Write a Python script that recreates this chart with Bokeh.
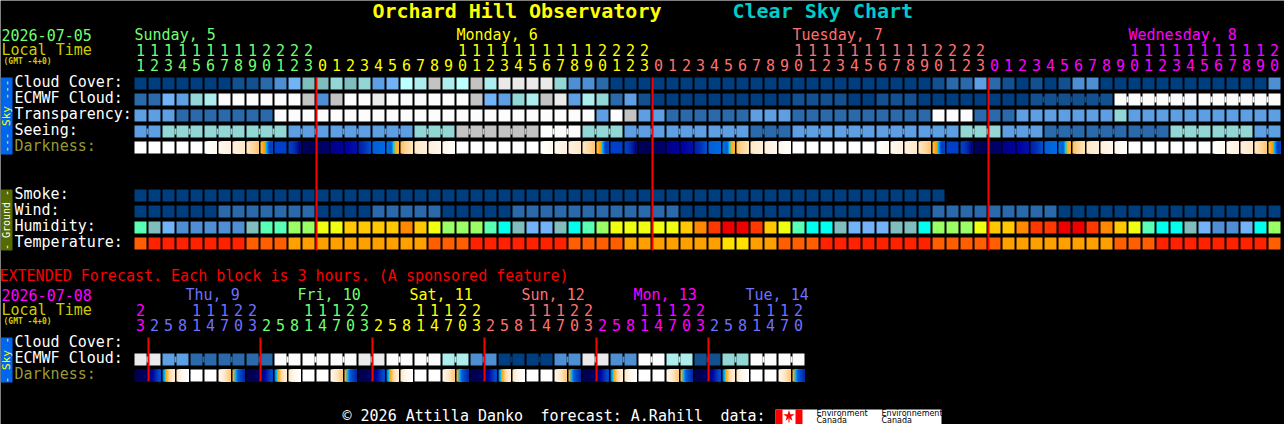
import numpy as np
from bokeh.plotting import figure
from bokeh.models import Range1d, ColumnDataSource
from bokeh.core.properties import value
from bokeh.embed import file_html
from bokeh.resources import INLINE

# ---------- data ----------
palette = {
    "a": "#003F7F", "b": "#13508F", "c": "#2B6AAA", "d": "#4E8ED2", "e": "#5E9EE2",
    "f": "#72B2F6", "g": "#80BEBE", "h": "#93D6D6", "i": "#ADEDED", "j": "#BCFFFF",
    "k": "#C3C3C3", "l": "#EAEAEA", "w": "#FCFCFC",
    "m": "#58FFB4", "n": "#9AFF66", "o": "#EEFF10", "p": "#FFC800", "q": "#FF8800",
    "r": "#FF3800", "s": "#EE0000", "t": "#00FFEE",
    "u": "#FF5F00", "v": "#FF2200", "x": "#FFA000", "y": "#FFE000",
}

cloud_cover = "aaaaaaabbcdfgghghefjikijkillllhddc" + "aaaaaaaaaaaaaaaaaaaaaaa" + "bccecbababdd" + "aaaaaaaaaaaa" + "d"
ecmwf_cloud = "ccfehiwwwwwwkdkwwlwwwwwwkfehikleihceb" + "aaaaaaaaaa" + "bbbbaabbb" + "aaaaaaaa" + "bbbbbb" + "wwwwwwwwwwww"
ecmwf_joined = [(64, 6), (70, 6), (76, 6)]
transparency = "eeeccccccc" + "wwwwwwwwwwwwwwwwwwwwwww" + "ewkeecccccceee" + "cccccccccc" + "wwwccc" + "eeeeeee" + "h" + "eeeeeeeeeee"
seeing_codes = "ehhheeehkkwheeeceeeehecccHHe".replace("H", "h")
seeing_sizes = [2] + [3] * 26 + [2]
smoke = "a" * 58
wind = "aaaaaa" + "ccccccc" + "aaaa" + "ccccc" + "aaaaa" + "cccccccccccc" + "aaaaaaaaaaaaaaaaaa" + "ccccccccc" + "aaaaaaaaaaaaaaaa"
humidity = "mgfdddddgmmnnooppppqpo" + "nnnmtgffgtmnooooopqrssrpomttgfffggtnnnoppqrrssrqpomttgfddftn"
temperature = "uvvvvvvvuuuxxxxxxxxxxuuuvvvvvvvuuuuxxxxxxxyyxxuuuvvvvvvvvuuuuuxxxxxxxxuuuvvvvvvvvu"

ext_ecmwf_pairs = "leccc" + "wwwlww" + "idaadldwibhww"

main_hours = list(range(11, 24)) + list(range(24)) + list(range(24)) + list(range(21))
main_hour_colors = ["#70FF70"] * 13 + ["#FFFF00"] * 24 + ["#FF7070"] * 24 + ["#FF00FF"] * 21
main_midnights = [13, 37, 61]
main_days = ["Sunday, 5", "Monday, 6", "Tuesday, 7", "Wednesday, 8"]
main_day_cols = [0, 23, 47, 71]
main_day_colors = ["#70FF70", "#FFFF00", "#FF7070", "#FF00FF"]

ext_hours = [23, 2, 5, 8, 11, 14, 17, 20] * 6
ext_hour_colors = ["#FF00FF"] + ["#7070FF"] * 8 + ["#70FF70"] * 8 + ["#FFFF00"] * 8 + ["#FF7070"] * 8 + ["#FF00FF"] * 8 + ["#7070FF"] * 7
ext_midnights = [1, 9, 17, 25, 33, 41]
ext_days = ["Thu, 9", "Fri, 10", "Sat, 11", "Sun, 12", "Mon, 13", "Tue, 14"]
ext_day_colors = ["#7070FF", "#70FF70", "#FFFF00", "#FF7070", "#FF00FF", "#7070FF"]

W = ["#FFFFFF"]
darkness_cycle = [
    W, W, W, W, W,
    ["#FFFFFF", "#FFF8F0"], ["#FFF8F0", "#FFF0E0"], ["#FFF0DD", "#FFE8CC"],
    ["#FFE8C8", "#FFD8A0", "#FFC878"],
    ["#FFB848", "#FFB038", "#FFA820", "#FFA010", "#F0A000", "#00C0FF", "#00A0F0", "#0060D8", "#0048C8", "#0040C0", "#0040C0", "#0040C0"],
    ["#0040C8"], ["#0040C8", "#0038C0", "#0020A0", "#000070"],
    ["#000060", "#000050"], ["#000055", "#000070"], ["#000088", "#000099"], ["#0000A0", "#0010A8"],
    ["#0020B0", "#0030B8", "#0050C8"], ["#0060D8", "#0068E0"],
    ["#0070E0", "#0070E0", "#0068E0", "#0060D8", "#0060D8", "#0070E0", "#00C0FF", "#00E0E0", "#F0A800", "#FFA820", "#FFB030", "#FFB840"],
    ["#FFC060", "#FFD898", "#FFE4B8"], ["#FFE8C8", "#FFEFD8"], ["#FFF0E0", "#FFF5EA"], ["#FFF8F0", "#FFFCF8"], W,
]
ext_darkness_cycle = [
    ["#000050", "#000060"], ["#000070", "#0000A0", "#0030B8", "#0050C8"],
    ["#0070E0", "#00A0F0", "#00D0FF", "#F0A800", "#FFB030", "#FFC060", "#FFD090", "#FFDCA8", "#FFE4B8", "#FFE8C8", "#FFECD0", "#FFF0D8"],
    ["#FFE8C8", "#FFF8F0", "#FFFFFF"], W, W,
    ["#FFF8F0", "#FFE8C8", "#FFC878"],
    ["#FFB040", "#F0A000", "#00C0FF", "#00B0FF", "#0070E0", "#0060D8", "#0050D0", "#0048C8", "#0040C0", "#0040C0", "#0030B0", "#0020A0"],
]

assert len(cloud_cover) == 82, len(cloud_cover)
assert len(ecmwf_cloud) == 82, len(ecmwf_cloud)
assert len(transparency) == 82, len(transparency)
assert sum(seeing_sizes) == 82 and len(seeing_codes) == len(seeing_sizes)
assert len(wind) == 82, len(wind)
assert len(humidity) == 82, len(humidity)
assert len(temperature) == 82, len(temperature)
assert len(ext_ecmwf_pairs) == 24, len(ext_ecmwf_pairs)

# ---------- layout ----------
PAGE_W, PAGE_H = 1284, 424
CELL_X0, PITCH_X = 134, 14
ROW_Y0, PITCH_Y = 77, 16
CELL_FRAC_X, CELL_FRAC_Y = 12 / 14, 12 / 16
MONO = "DejaVu Sans Mono"
BASELINE_SHIFT = 0.36  # the svg text sits this many em below the requested alphabetic line

p = figure(width=PAGE_W, height=PAGE_H, output_backend="svg", toolbar_location=None,
           x_range=Range1d(-CELL_X0 / PITCH_X, (PAGE_W - CELL_X0) / PITCH_X),
           y_range=Range1d((PAGE_H - ROW_Y0) / PITCH_Y, -ROW_Y0 / PITCH_Y),
           x_axis_type=None, y_axis_type=None, min_border=0,
           background_fill_color="black", border_fill_color="black",
           outline_line_color=None)
p.grid.visible = False
p.extra_x_ranges["px"] = Range1d(0, PAGE_W)
p.extra_y_ranges["px"] = Range1d(PAGE_H, 0)


def cells(codes, row, start=0):
    idx = np.arange(len(codes)) + start
    p.quad(left=idx, right=idx + CELL_FRAC_X, top=row, bottom=row + CELL_FRAC_Y,
           fill_color=[palette[c] for c in codes], line_color=None)


def bridges(groups, row, codes):
    for first, n in groups:
        left = np.arange(first, first + n - 1) + CELL_FRAC_X
        p.quad(left=left, right=left + 2 / 14, top=row + 3 / 16, bottom=row + 9 / 16,
               fill_color=[palette[codes[i]] for i in range(first, first + n - 1)], line_color=None)


def hex2rgb(h):
    return [int(h[i:i + 2], 16) for i in (1, 3, 5)]


def expand(stops):
    rgb = np.array([hex2rgb(s) for s in stops], float)
    t = np.linspace(0, 1, 12)
    ts = np.linspace(0, 1, len(stops))
    return ["#%02X%02X%02X" % tuple(int(round(np.interp(v, ts, rgb[:, k]))) for k in range(3)) for v in t]


def darkness(cycle, n, row):
    lefts, rights, cols = [], [], []
    for i in range(n):
        stops = cycle[i % len(cycle)]
        if len(stops) == 1:
            lefts.append(i)
            rights.append(i + CELL_FRAC_X)
            cols.append(stops[0])
            continue
        for k, c in enumerate(expand(stops)):
            lefts.append(i + k / 14)
            # each strip runs under the next one, so no seam shows
            rights.append(i + CELL_FRAC_X)
            cols.append(c)
    p.quad(left=lefts, right=rights, top=row, bottom=row + CELL_FRAC_Y,
           fill_color=cols, line_color=None)


def txt(x, y, s, color, size=15, bold=False, align="left", font=MONO, angle=0, baseline="alphabetic"):
    xs = x if isinstance(x, (list, np.ndarray)) else [x]
    if baseline == "alphabetic":
        y = y - BASELINE_SHIFT * size
    ys = [y] * len(xs)
    ss = s if isinstance(s, list) else [s]
    cs = color if isinstance(color, list) else [color] * len(xs)
    src = ColumnDataSource(dict(x=list(xs), y=list(ys), t=ss, c=cs))
    p.text(x="x", y="y", text="t", source=src, text_color="c", text_align=align,
           text_baseline=baseline, text_font=value(font), text_font_size=value(f"{size}px"),
           text_font_style="bold" if bold else "normal", angle=angle,
           x_range_name="px", y_range_name="px")


def box(x0, x1, y0, y1, color):
    p.quad(left=[x0], right=[x1], top=[y0], bottom=[y1], fill_color=color, line_color=None,
           x_range_name="px", y_range_name="px")


# title
txt(372, 18, "Orchard Hill Observatory", "#FFFF00", size=20, bold=True)
txt(732, 18, "Clear Sky Chart", "#00CCCC", size=20, bold=True)

# headers
txt(1, 40, "2026-07-05", "#70FF70")
txt(1, 55, "Local Time", "#CCCC00")
txt(3, 64, "(GMT -4+0)", "#CCCC00", size=8, bold=True)
day_x = [CELL_X0 + c * PITCH_X for c in main_day_cols]
txt(day_x, 40, main_days, main_day_colors)

centers = [CELL_X0 + PITCH_X * i + 6 for i in range(len(main_hours))]
txt([c for c, h in zip(centers, main_hours) if h >= 10], 55,
    [str(h // 10) for h in main_hours if h >= 10],
    [k for k, h in zip(main_hour_colors, main_hours) if h >= 10], align="center")
txt(centers, 70, [str(h % 10) for h in main_hours], main_hour_colors, align="center")

# main rows
for row, name, col in [(0, "Cloud Cover:", "white"), (1, "ECMWF Cloud:", "white"), (2, "Transparency:", "white"),
                       (3, "Seeing:", "white"), (4, "Darkness:", "#999933"), (7, "Smoke:", "white"),
                       (8, "Wind:", "white"), (9, "Humidity:", "white"), (10, "Temperature:", "white")]:
    txt(14, ROW_Y0 + row * PITCH_Y + 10, name, col)

cells(cloud_cover, 0)
cells(ecmwf_cloud, 1)
bridges(ecmwf_joined, 1, ecmwf_cloud)
cells(transparency, 2)
seeing = "".join(c * n for c, n in zip(seeing_codes, seeing_sizes))
cells(seeing, 3)
groups, pos = [], 0
for n in seeing_sizes:
    groups.append((pos, n))
    pos += n
bridges(groups, 3, seeing)
darkness(darkness_cycle, 82, 4)
cells(smoke, 7)
cells(wind, 8)
cells(humidity, 9)
cells(temperature, 10)

m = np.array(main_midnights)
p.quad(left=m - 1 / 14, right=m + 1 / 14, top=0, bottom=(250 - ROW_Y0) / PITCH_Y, fill_color="#FF0000", line_color=None)

# side bars
box(0, 12, 77, 154, "#0066EE")
txt(6, 115.5, "--- Sky ---", "#FFFF00", size=11, align="center", angle=np.pi / 2, baseline="middle")
box(0, 12, 189, 250, "#556B00")
txt(6, 219.5, "- Ground -", "white", size=10, align="center", angle=np.pi / 2, baseline="middle")
box(0, 12, 337, 382, "#0066EE")
txt(6, 359.5, "- Sky -", "#FFFF00", size=11, align="center", angle=np.pi / 2, baseline="middle")

# extended
txt(-1, 281, "EXTENDED Forecast. Each block is 3 hours. (A sponsored feature)", "#FF0000")
txt(1, 300, "2026-07-08", "#FF00FF")
txt(1, 315, "Local Time", "#CCCC00")
txt(3, 324, "(GMT -4+0)", "#CCCC00", size=8, bold=True)
txt([185 + 112 * i for i in range(len(ext_days))], 300, ext_days, ext_day_colors)
ec = [CELL_X0 + PITCH_X * i + 6 for i in range(len(ext_hours))]
txt([c for c, h in zip(ec, ext_hours) if h >= 10], 315,
    [str(h // 10) for h in ext_hours if h >= 10],
    [k for k, h in zip(ext_hour_colors, ext_hours) if h >= 10], align="center")
txt(ec, 330, [str(h % 10) for h in ext_hours], ext_hour_colors, align="center")
txt(14, 347, "Cloud Cover:", "white")
txt(14, 363, "ECMWF Cloud:", "white")
txt(14, 379, "Darkness:", "#999933")

EXT_ROW = (353 - ROW_Y0) / PITCH_Y
ext_codes = "".join(c * 2 for c in ext_ecmwf_pairs)
cells(ext_codes, EXT_ROW)
bridges([(i * 2, 2) for i in range(len(ext_ecmwf_pairs))], EXT_ROW, ext_codes)
darkness(ext_darkness_cycle, 48, EXT_ROW + 1)
m = np.array(ext_midnights)
p.quad(left=m - 1 / 14, right=m + 1 / 14, top=(337 - ROW_Y0) / PITCH_Y, bottom=(381 - ROW_Y0) / PITCH_Y,
       fill_color="#FF0000", line_color=None)

# footer
txt(342, 421, "\u00a9 2026 Attilla Danko", "white")
txt(540, 421, "forecast: A.Rahill", "white")
txt(720, 421, "data:", "white")
box(775, 941, 409, 424, "white")
box(775, 782, 409, 424, "#FF0000")
box(795, 802, 409, 424, "#FF0000")
p.scatter(x=[788.5], y=[415.5], marker="star", size=12, fill_color="#FF0000", line_color=None,
          x_range_name="px", y_range_name="px")
box(788, 789, 418, 422, "#FF0000")
for x0, a, b in [(816, "Environment", "Canada"), (881, "Environnement", "Canada")]:
    txt(x0, 416, a, "black", size=8, font="DejaVu Sans")
    txt(x0, 423, b, "black", size=8, font="DejaVu Sans")

open("out.html", "w").write(file_html(p, INLINE))
